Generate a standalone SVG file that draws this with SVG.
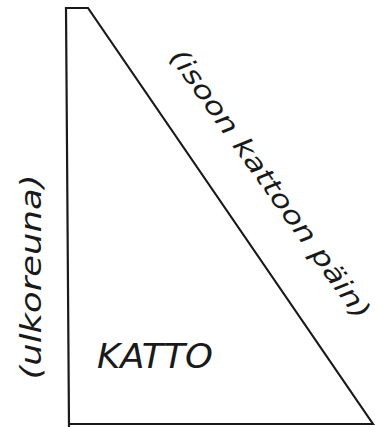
<svg xmlns="http://www.w3.org/2000/svg" width="375" height="427" viewBox="0 0 375 427">
<style>
.lbl{font-family:"DejaVu Sans","Liberation Sans",sans-serif;font-style:italic;fill:#1a1a1a}
.shape{fill:none;stroke:#1a1a1a;stroke-width:2.2;stroke-linejoin:miter}
</style>
<rect width="375" height="427" fill="#ffffff"/>
<g id="roof">
<path class="shape" d="M69,427 L66,8 L88,8 L373,424 L69,424"/>
</g>
<g id="labels">
<text class="lbl" font-size="26" text-anchor="middle" textLength="325" lengthAdjust="spacingAndGlyphs" transform="translate(263,189) rotate(54.5)">(isoon kattoon päin)</text>
<text class="lbl" font-size="28" text-anchor="middle" textLength="205" lengthAdjust="spacingAndGlyphs" transform="translate(41,277) rotate(-90)">(ulkoreuna)</text>
<text class="lbl" font-size="33" x="97" y="368" textLength="116" lengthAdjust="spacingAndGlyphs">KATTO</text>
</g>
</svg>
